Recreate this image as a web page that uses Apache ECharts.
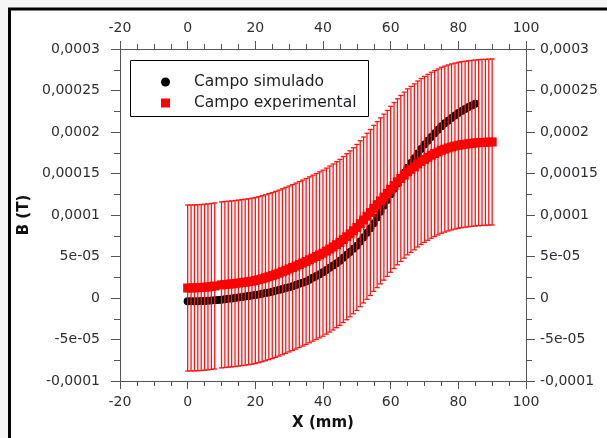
<!DOCTYPE html>
<html>
<head>
<meta charset="utf-8">
<script src="https://cdn.jsdelivr.net/npm/echarts@6/dist/echarts.min.js"></script>
<style>
  html, body { margin: 0; padding: 0; background: #f5f5f5; }
  #chart { width: 607px; height: 438px; }
</style>
</head>
<body>
<div id="chart"></div>
<script>
// Tick labels (B is plotted in µT internally, labelled in T)
const xTickLabels = ['-20', '0', '20', '40', '60', '80', '100'];
const yTickLabels = ['-0,0001', '-5e-05', '0', '5e-05', '0,0001', '0,00015', '0,0002', '0,00025', '0,0003'];

// Simulated field along X (mm), in µT
const simulatedX = [
  0, 1, 2, 3, 4, 5, 6, 7, 8, 9,
  10, 11, 12, 13, 14, 15, 16, 17, 18, 19,
  20, 21, 22, 23, 24, 25, 26, 27, 28, 29,
  30, 31, 32, 33, 34, 35, 36, 37, 38, 39,
  40, 41, 42, 43, 44, 45, 46, 47, 48, 49,
  50, 51, 52, 53, 54, 55, 56, 57, 58, 59,
  60, 61, 62, 63, 64, 65, 66, 67, 68, 69,
  70, 71, 72, 73, 74, 75, 76, 77, 78, 79,
  80, 81, 82, 83, 84, 85
];
const simulatedMicroT = [
  -4.0, -4.0, -3.9, -3.8, -3.7, -3.5, -3.2, -2.9, -2.6, -2.3,
  -2.0, -1.5, -1.0, -0.5, 0.0, 0.5, 1.1, 1.7, 2.3, 2.9,
  3.5, 4.3, 5.1, 5.9, 6.7, 7.5, 8.6, 9.7, 10.8, 11.9,
  13.0, 14.3, 15.7, 17.1, 18.5, 20.0, 22.1, 24.3, 26.5, 28.7,
  31.0, 33.7, 36.4, 39.2, 42.0, 45.0, 48.5, 52.0, 55.5, 59.2,
  63.0, 68.0, 73.2, 78.5, 84.0, 90.0, 97.0, 104, 111, 118,
  125, 131.5, 138, 144.5, 151, 157, 162.7, 168.3, 174, 179.5,
  185, 189.6, 194, 198.5, 202.8, 207, 210.5, 213.7, 217, 220,
  223, 225.4, 227.7, 230, 232, 234
];

// Measured field along X (mm), in µT, with its uncertainty
const experimentalX = [
  0, 1, 2, 3, 4, 5, 6, 7, 8,
  10, 11, 12, 13, 14, 15, 16, 17, 18, 19,
  20, 21, 22, 23, 24, 25, 26, 27, 28, 29,
  30, 31, 32, 33, 34, 35, 36, 37, 38, 39,
  40, 41, 42, 43, 44, 45, 46, 47, 48, 49,
  50, 51, 52, 53, 54, 55, 56, 57, 58, 59,
  60, 61, 62, 63, 64, 65, 66, 67, 68, 69,
  70, 71, 72, 73, 74, 75, 76, 77, 78, 79,
  80, 81, 82, 83, 84, 85, 86, 87, 88, 89, 90
];
const experimentalMicroT = [
  12.0, 12.1, 12.2, 12.4, 12.6, 13.0, 13.4, 13.9, 14.5,
  15.8, 16.2, 16.6, 17.0, 17.4, 18.0, 18.5, 19.0, 19.6, 20.3,
  21.0, 22.1, 23.2, 24.4, 25.7, 27.0, 28.5, 30.0, 31.6, 33.3,
  35.0, 36.7, 38.5, 40.3, 42.1, 44.0, 46.0, 48.0, 50.0, 52.0,
  54.0, 56.5, 59.0, 61.5, 64.2, 67.0, 70.4, 73.8, 77.3, 81.0,
  85.0, 89.5, 94.0, 98.5, 103, 108, 112.5, 117, 121.5, 126,
  131, 135.5, 140, 144, 148, 152, 155, 158, 161.5, 164.5,
  167, 169.5, 172, 174, 176, 178, 179.4, 180.8, 182, 183,
  184, 184.7, 185.3, 185.8, 186.3, 186.8, 187.1, 187.4, 187.6, 187.8, 188
];
const experimentalErrorMicroT = 100;

const X_MIN = -20, X_MAX = 100, X_STEP = 20;
const Y_MIN = -100, Y_MAX = 300, Y_STEP = 50;

const simulatedData = simulatedX.map((x, i) => [x, simulatedMicroT[i]]);
const experimentalData = experimentalX.map((x, i) => [x, experimentalMicroT[i]]);
const errorData = experimentalX.map((x, i) => [
  x,
  experimentalMicroT[i] - experimentalErrorMicroT,
  experimentalMicroT[i] + experimentalErrorMicroT
]);

const FONT = 'DejaVu Sans';
const labelColor = '#2e2e36';
const axisColor = '#555';

function xLabel(v) { return xTickLabels[Math.round((v - X_MIN) / X_STEP)] ?? ''; }
function yLabel(v) { return yTickLabels[Math.round((v - Y_MIN) / Y_STEP)] ?? ''; }

function xAxisDef(position, extra) {
  return Object.assign({
    type: 'value', position, min: X_MIN, max: X_MAX, interval: X_STEP,
    axisLine: { show: true, onZero: false, lineStyle: { color: axisColor, width: 1 } },
    axisTick: { show: true, inside: false, length: 8, lineStyle: { color: axisColor } },
    minorTick: { show: true, splitNumber: 4, length: 5, lineStyle: { color: axisColor } },
    axisLabel: { formatter: xLabel, color: labelColor, fontFamily: FONT, fontSize: 14, margin: 14 },
    splitLine: { show: false }, minorSplitLine: { show: false }
  }, extra || {});
}

function yAxisDef(position, margin, extra) {
  return Object.assign({
    type: 'value', position, min: Y_MIN, max: Y_MAX, interval: Y_STEP,
    axisLine: { show: true, onZero: false, lineStyle: { color: axisColor, width: 1 } },
    axisTick: { show: true, inside: false, length: 9, lineStyle: { color: axisColor } },
    minorTick: { show: true, splitNumber: 2, length: 6, lineStyle: { color: axisColor } },
    axisLabel: { formatter: yLabel, color: labelColor, fontFamily: FONT, fontSize: 14, margin },
    splitLine: { show: false }, minorSplitLine: { show: false }
  }, extra || {});
}

function renderErrorBar(params, api) {
  const x = api.value(0);
  const top = api.coord([x, api.value(2)]);
  const bot = api.coord([x, api.value(1)]);
  const half = 2.5;
  const style = { stroke: '#ff1414', lineWidth: 1.3, fill: null };
  return {
    type: 'group',
    children: [
      { type: 'line', shape: { x1: top[0], y1: top[1], x2: bot[0], y2: bot[1] }, style },
      { type: 'line', shape: { x1: top[0] - half, y1: top[1], x2: top[0] + half, y2: top[1] }, style },
      { type: 'line', shape: { x1: bot[0] - half, y1: bot[1], x2: bot[0] + half, y2: bot[1] }, style }
    ]
  };
}

const chart = echarts.init(document.getElementById('chart'), null, { renderer: 'canvas' });
chart.setOption({
  animation: false,
  backgroundColor: '#f5f5f5',
  textStyle: { fontFamily: FONT },
  graphic: [
    { type: 'rect', z: -10, shape: { x: 9.5, y: 9, width: 640, height: 480 },
      style: { fill: '#ffffff', stroke: '#000', lineWidth: 3 } },
    { type: 'rect', z: 10, shape: { x: 130.5, y: 60.5, width: 238, height: 56 },
      style: { fill: '#ffffff', stroke: '#000', lineWidth: 1 } }
  ],
  grid: { left: 120, right: 81, top: 49, bottom: 57, containLabel: false },
  xAxis: [
    xAxisDef('bottom', {
      name: 'X (mm)', nameLocation: 'middle', nameGap: 35,
      nameTextStyle: { fontFamily: FONT, fontWeight: 'bold', fontSize: 15, color: '#111' }
    }),
    xAxisDef('top')
  ],
  yAxis: [
    yAxisDef('left', 20, {
      name: 'B (T)', nameLocation: 'middle', nameGap: 76,
      nameTextStyle: { fontFamily: FONT, fontWeight: 'bold', fontSize: 15, color: '#111' }
    }),
    yAxisDef('right', 14)
  ],
  legend: {
    orient: 'vertical', left: 156, top: 68, z: 20,
    itemWidth: 9, itemHeight: 9, itemGap: 3,
    textStyle: { fontFamily: FONT, fontSize: 15.5, color: '#1e1e26', lineHeight: 18, padding: [0, 0, 0, 19] },
    data: [
      { name: 'Campo simulado', icon: 'circle', itemStyle: { color: '#000' } },
      { name: 'Campo experimental', icon: 'rect', itemStyle: { color: '#ff0000' } }
    ]
  },
  series: [
    {
      name: 'Campo simulado', type: 'scatter', z: 2,
      symbol: 'circle', symbolSize: 8,
      itemStyle: { color: '#000', opacity: 1 },
      data: simulatedData
    },
    {
      name: 'error', type: 'custom', z: 3,
      renderItem: renderErrorBar,
      encode: { x: 0, y: [1, 2] },
      data: errorData
    },
    {
      name: 'Campo experimental', type: 'scatter', z: 4,
      symbol: 'rect', symbolSize: 9,
      itemStyle: { color: '#ff0000', opacity: 1 },
      data: experimentalData
    }
  ]
});
</script>
</body>
</html>
